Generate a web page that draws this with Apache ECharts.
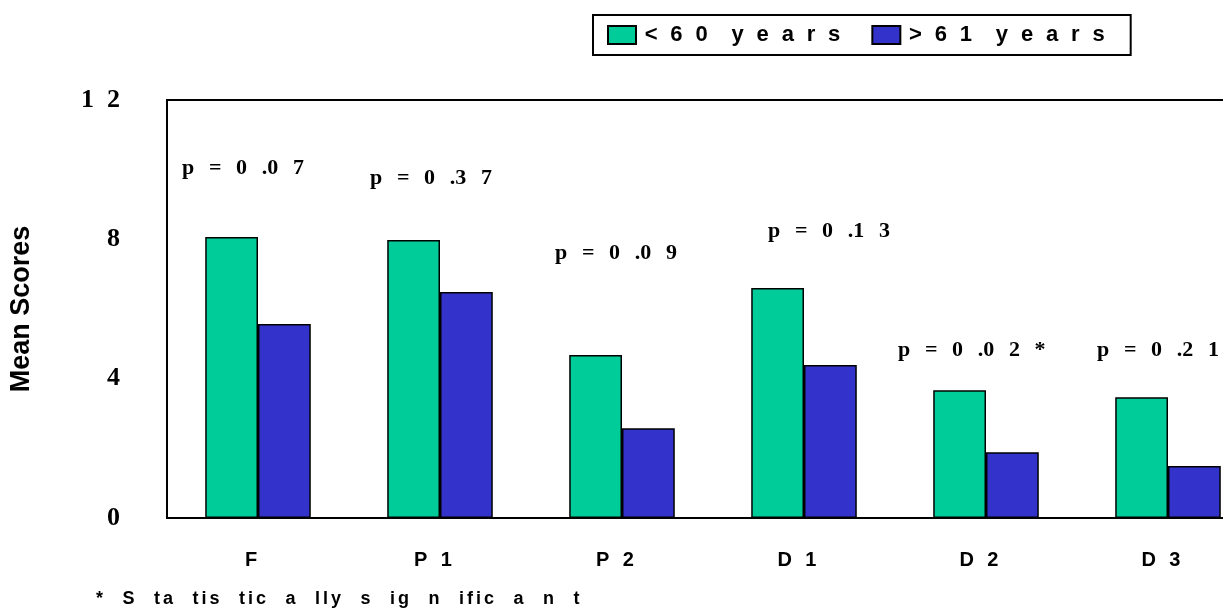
<!DOCTYPE html>
<html>
<head>
<meta charset="utf-8">
<script src="https://cdn.jsdelivr.net/npm/echarts@6/dist/echarts.min.js"></script>
<style>
html,body{margin:0;padding:0;background:#fff;}
#chart{width:1223px;height:616px;}
</style>
</head>
<body>
<div id="chart"></div>
<script>
// ---- data ----
const categories = ['F', 'P1', 'P2', 'D1', 'D2', 'D3'];
const seriesNames = ['<60 years', '>61 years'];
const under60 = [8.07, 7.98, 4.68, 6.60, 3.67, 3.47];
const over61 = [5.57, 6.49, 2.58, 4.39, 1.89, 1.49];
const pLabels = ['p = 0 .0 7', 'p = 0 .3 7', 'p = 0 .0 9', 'p = 0 .1 3', 'p = 0 .0 2 *', 'p = 0 .2 1'];
const pLabelY = [10.05, 9.76, 7.61, 8.24, 4.82, 4.82];
const footnote = '* S ta tis tic a lly s ig n ific a n t';

// ---- styling ----
const pLabelDx = [-76, -70, -67, -36, -88, -71];
const EN = '\u2002';
const LGAP = '\u2002\u200A';
const sans = '"Liberation Sans", Arial, sans-serif';
const serif = '"Liberation Serif", "Times New Roman", serif';
const spaced = (s, g) => s.split(' ').map(w => w.split('').join(g)).join(g + EN);

const chart = echarts.init(document.getElementById('chart'));
chart.setOption({
  animation: false,
  backgroundColor: '#fff',
  grid: {
    left: 167, top: 100, bottom: 98, width: 1092,
    outerBoundsMode: 'none', containLabel: false,
    show: true, borderColor: '#000', borderWidth: 2, backgroundColor: 'transparent'
  },
  legend: {
    left: 593, top: 15,
    padding: [9, 26, 9, 14],
    borderColor: '#000', borderWidth: 2,
    itemWidth: 28, itemHeight: 18, itemGap: 31,
    icon: 'rect',
    textStyle: { fontFamily: sans, fontWeight: 'bold', fontSize: 22, color: '#000' },
    formatter: name => '\u2006' + spaced(name, LGAP),
    data: seriesNames
  },
  xAxis: {
    type: 'category',
    data: categories,
    axisLine: { lineStyle: { color: '#000', width: 2 } },
    axisTick: { show: false },
    axisLabel: {
      margin: 32, fontFamily: sans, fontWeight: 'bold', fontSize: 20, color: '#000',
      padding: [0, 14, 0, 0],
      formatter: v => v.split('').join('\u2002\u2006')
    }
  },
  yAxis: {
    type: 'value', min: 0, max: 12, interval: 4,
    name: 'Mean Scores', nameLocation: 'middle', nameGap: 132,
    nameTextStyle: { fontFamily: sans, fontWeight: 'bold', fontSize: 27, color: '#000' },
    axisLine: { show: true, lineStyle: { color: '#000', width: 2 } },
    axisTick: { show: false },
    splitLine: { show: false },
    axisLabel: {
      margin: 47, fontFamily: serif, fontWeight: 'bold', fontSize: 26, color: '#000',
      padding: [4, 0, 0, 0],
      formatter: v => String(v).split('').join(EN)
    }
  },
  series: [
    {
      name: seriesNames[0], type: 'bar', data: under60,
      barGap: '0%', barCategoryGap: '42%',
      itemStyle: { color: '#00CC99', borderColor: '#000', borderWidth: 1.5 }
    },
    {
      name: seriesNames[1], type: 'bar', data: over61,
      itemStyle: { color: '#3333CC', borderColor: '#000', borderWidth: 1.5 }
    },
    {
      name: 'p', type: 'scatter', symbolSize: 0, silent: true,
      itemStyle: { opacity: 1 },
      data: categories.map((c, i) => ({
        value: [c, pLabelY[i]],
        label: { offset: [pLabelDx[i], 0] }
      })),
      label: {
        show: true, position: 'inside', align: 'left', verticalAlign: 'middle',
        fontFamily: serif, fontWeight: 'bold', fontSize: 22, color: '#000', opacity: 1,
        formatter: p => pLabels[p.dataIndex].split(' ').join('\u2002\u2006')
      }
    }
  ],
  graphic: [{
    type: 'text', left: 96, top: 590,
    style: {
      text: footnote.split(' ').map(w => w.split('').join('\u2006')).join('\u2002\u2002\u200A'),
      font: 'bold 18px ' + sans, fill: '#000'
    }
  }]
});
</script>
</body>
</html>
